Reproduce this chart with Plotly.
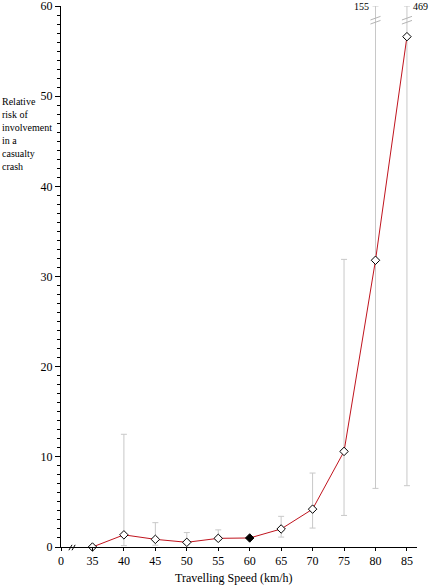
import plotly.graph_objects as go

# ---- data ----
speeds = [35, 40, 45, 50, 55, 60, 65, 70, 75, 80, 85]
risk = [0.0, 1.35, 0.85, 0.52, 0.96, 1.0, 2.0, 4.2, 10.6, 31.8, 56.6]
ci_low = [None, 0.15, 0.2, 0.33, 0.74, None, 1.1, 2.1, 3.5, 6.5, 6.8]
ci_high = [None, 12.5, 2.7, 1.6, 1.9, None, 3.4, 8.2, 31.9, 155, 469]
reference_speed = 60
x_tick_labels = ["0", "35", "40", "45", "50", "55", "60", "65", "70", "75", "80", "85"]
y_max = 60

FONT = "Liberation Serif, Times New Roman, serif"

xcats = [str(s) for s in speeds]
err_plus = []
err_minus = []
for r, lo, hi in zip(risk, ci_low, ci_high):
    if hi is None:
        err_plus.append(0)
        err_minus.append(0)
    else:
        err_plus.append(min(hi, y_max) - r)
        err_minus.append(r - lo)

marker_fill = ["black" if s == reference_speed else "white" for s in speeds]

fig = go.Figure()

# error bars (drawn first, grey)
fig.add_trace(go.Scatter(
    x=xcats, y=risk, mode="markers",
    marker=dict(size=1, color="rgba(0,0,0,0)"),
    error_y=dict(type="data", symmetric=False, array=err_plus, arrayminus=err_minus,
                 color="#c8c8c8", thickness=1, width=3),
    cliponaxis=False, hoverinfo="skip", showlegend=False,
))

fig.add_trace(go.Scatter(
    x=xcats, y=risk, mode="lines+markers",
    line=dict(color="#c0141e", width=1),
    marker=dict(symbol="diamond", size=6.5, color=marker_fill,
                line=dict(color="black", width=1)),
    cliponaxis=False, showlegend=False,
))

shapes = []
annotations = []
# broken error bars and their true upper values
for i, (s, hi) in enumerate(zip(speeds, ci_high)):
    if hi is not None and hi > y_max:
        xi = x_tick_labels.index(str(s))
        for off in (0.0, 0.45):
            shapes.append(dict(type="line", xref="x", yref="y",
                               x0=xi - 0.16, y0=y_max - 2.0 + off,
                               x1=xi + 0.16, y1=y_max - 1.6 + off,
                               line=dict(color="#b4b4b4", width=1)))
        left = s == speeds[-2]
        annotations.append(dict(x=xi, y=y_max, xref="x", yref="y",
                                text=str(hi), showarrow=False,
                                xanchor="right" if left else "left",
                                xshift=-4 if left else 4, yanchor="middle",
                                font=dict(family=FONT, size=10, color="black")))

# axis break marks between 0 and 35
for x0 in (0.25, 0.35):
    shapes.append(dict(type="line", xref="x", yref="y domain",
                       x0=x0, y0=-0.006, x1=x0 + 0.1, y1=0.004,
                       line=dict(color="black", width=1)))

annotations.append(dict(x=-0.171, y=0.763, xref="paper", yref="paper",
                        text="Relative<br>risk of<br>involvement<br>in a<br>casualty<br>crash",
                        showarrow=False, xanchor="left", yanchor="middle", align="left",
                        font=dict(family=FONT, size=10, color="black")))
annotations.append(dict(x=0.487, y=-0.057, xref="paper", yref="paper",
                        text="Travelling Speed (km/h)", showarrow=False,
                        xanchor="center", yanchor="middle",
                        font=dict(family=FONT, size=12, color="black")))

fig.update_layout(
    width=429, height=587,
    margin=dict(l=61, r=12, t=6, b=40, autoexpand=False),
    paper_bgcolor="white", plot_bgcolor="white",
    font=dict(family=FONT, size=12, color="black"),
    shapes=shapes, annotations=annotations,
    xaxis=dict(type="category", categoryorder="array", categoryarray=x_tick_labels,
               range=[0, 11.32], showgrid=False, zeroline=False, automargin=False,
               showline=True, linecolor="black", linewidth=1,
               ticks="outside", ticklen=3, tickcolor="black",
               ticklabeloverflow="allow",
               tickfont=dict(family=FONT, size=12)),
    yaxis=dict(range=[0, y_max], dtick=10, showgrid=False, zeroline=False, automargin=False,
               showline=True, linecolor="black", linewidth=1,
               ticks="outside", ticklen=5, tickcolor="black",
               ticklabeloverflow="allow",
               minor=dict(dtick=1, ticks="outside", ticklen=3, tickcolor="black"),
               tickfont=dict(family=FONT, size=12)),
)

fig.write_html("out.html",
               config={"displayModeBar": False},
               post_script="document.body.style.margin='0';document.body.style.overflow='hidden';")
